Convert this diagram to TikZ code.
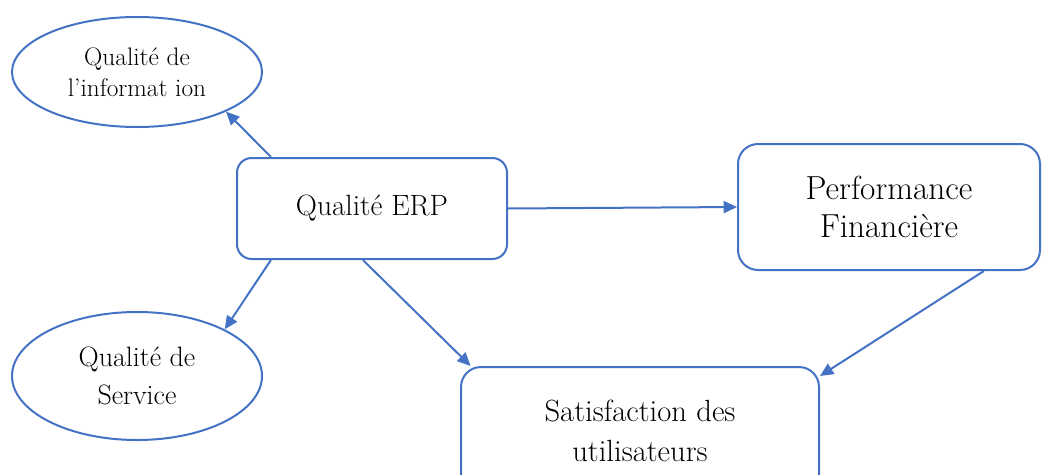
\documentclass[tikz,border=0pt]{standalone}
\usepackage{xcolor}
\usepackage{tikz}
\usetikzlibrary{arrows.meta, shapes.geometric}
\definecolor{linkblue}{HTML}{4472C4}
\tikzset{
>={Triangle[length=10pt,width=9pt]},
text=black,
box/.style={%
    rectangle,
    rounded corners=11pt,
    draw=linkblue,
    line width=1.5pt,
    inner sep=0pt,
    align=center,
    % Font
    font=\fontsize{22}{28}\selectfont
},
oval/.style={%
    ellipse,inner sep=0pt,align=center,draw=linkblue,line width=1.5pt,
    font=\fontsize{19}{23}\selectfont
},
link/.style={->,draw=linkblue,line width=1.5pt},
}

\begin{document}
\begin{tikzpicture}[x=0.75pt,y=-0.75pt]
	\clip (0,0) rectangle (1043,475);
	\node[oval,minimum width=187.5pt,minimum height=82.5pt] at (137,72) (info) {Qualité de\\l’informat ion};
	\node[box,minimum width=202.5pt,minimum height=75.75pt] at (372,208.5) (erp) {Qualité ERP};
	\node[box,rounded corners=15pt,minimum width=226.5pt,minimum height=94.5pt,
	      font=\fontsize{25}{28}\selectfont] at (889,207) (perf) {Performance\\Financière};
	\node[oval,minimum width=187.5pt,minimum height=96pt,
	      font=\fontsize{21}{28}\selectfont] at (137,376) (service) {Qualité de\\Service};
	\node[box,rounded corners=15pt,minimum width=268.5pt,minimum height=96pt,
	      font=\fontsize{23}{30}\selectfont] at (640,431) (sat) {Satisfaction des\\utilisateurs};

	\draw[link] (erp.153) -- (info.-24);
	\draw[link] (erp.207) -- (service.28);
	\draw[link] (erp.east) -- (perf.west);
	\draw[link] (erp.-100) -- (sat.159);
	\draw[link] (perf.-34) -- (sat.17);

\end{tikzpicture}
\end{document}
